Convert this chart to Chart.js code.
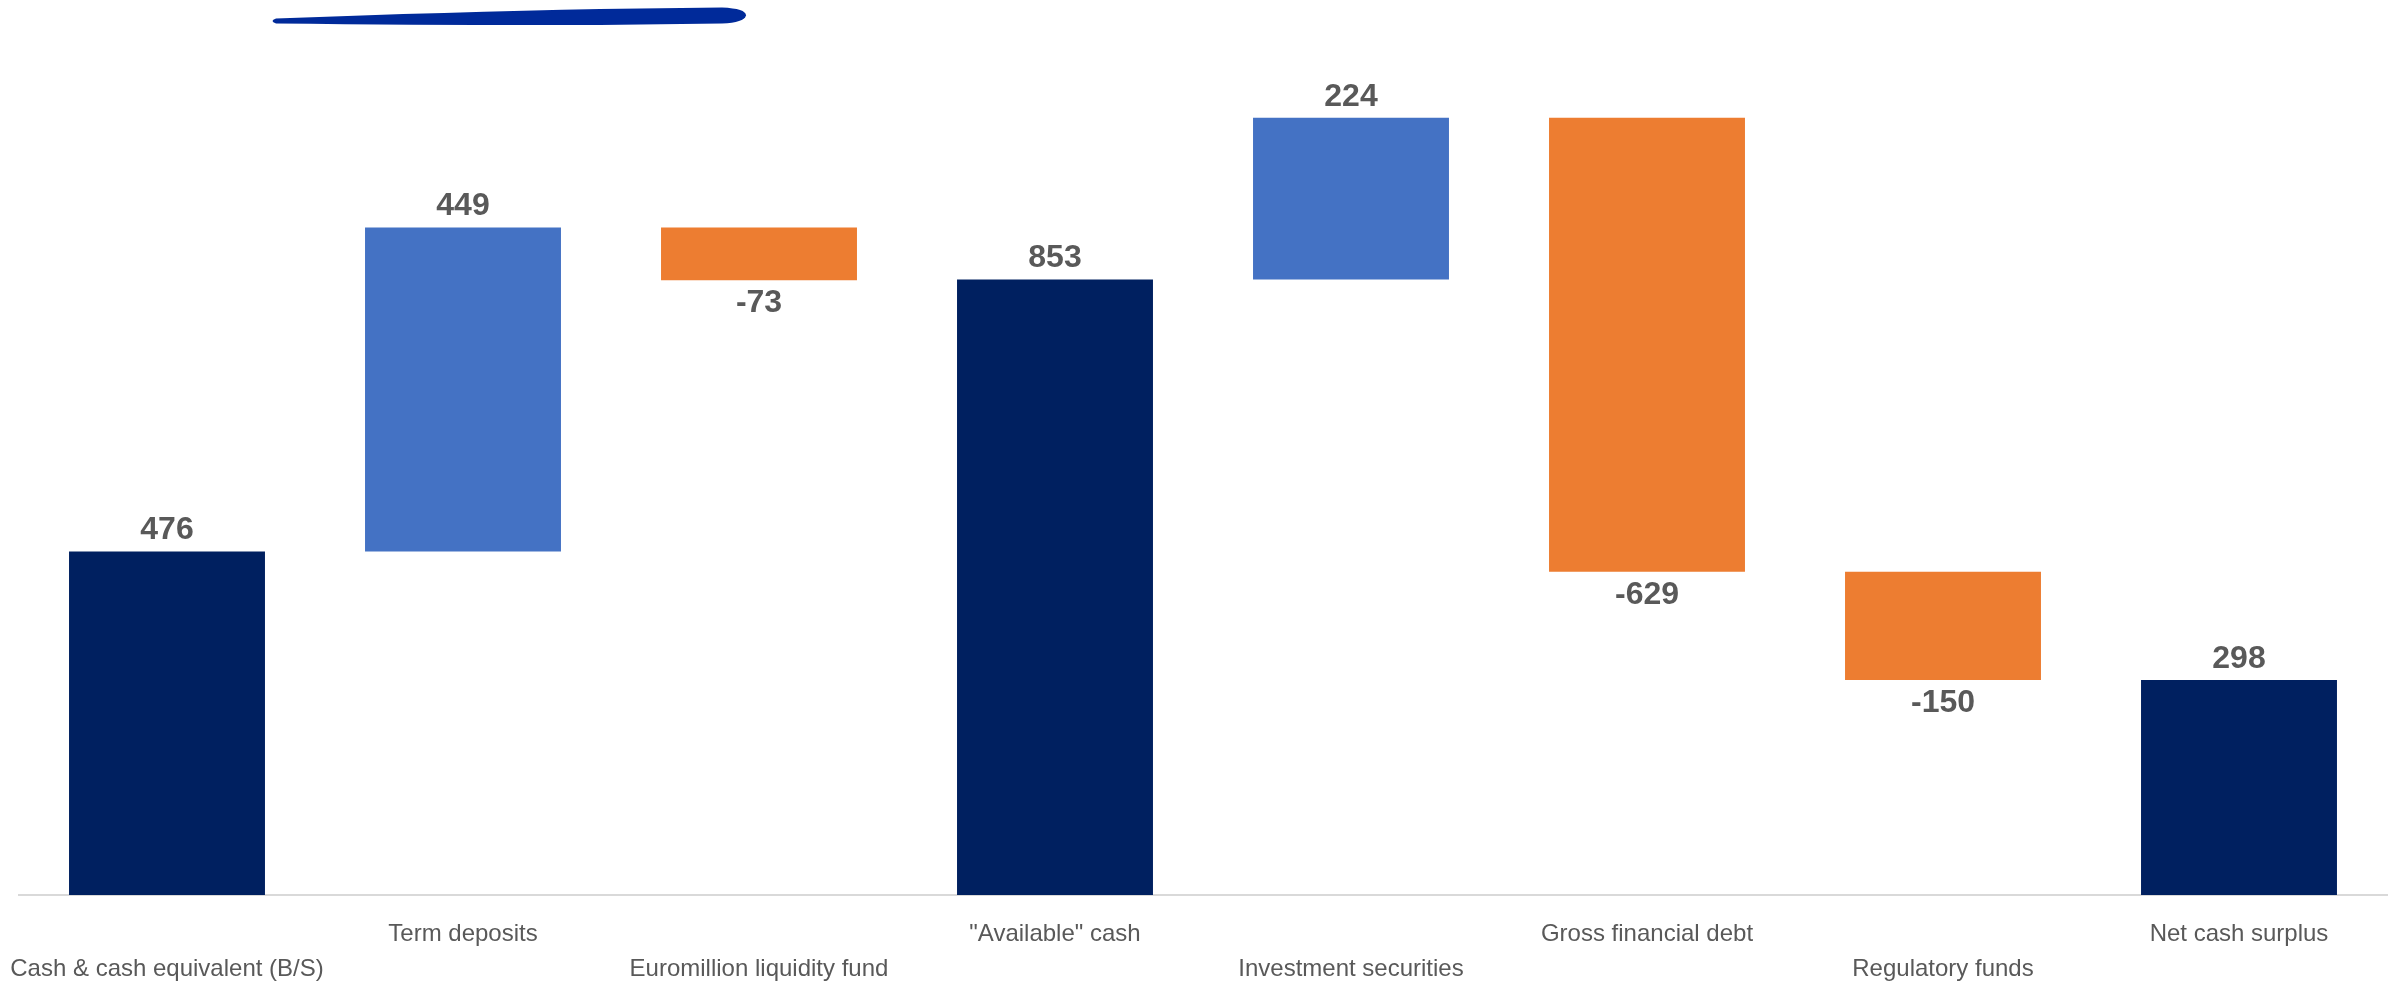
<!DOCTYPE html>
<html>
<head>
<meta charset="utf-8">
<script src="https://cdn.jsdelivr.net/npm/chart.js@4/dist/chart.umd.min.js"></script>
<style>
  html, body { margin: 0; padding: 0; background: #ffffff; }
  #wrap { position: relative; width: 2399px; height: 986px; }
  #swoosh { position: absolute; left: 0; top: 0; }
  canvas { position: absolute; left: 0; top: 0; }
</style>
</head>
<body>
<div id="wrap">
  <canvas id="c" width="2399" height="986"></canvas>
  <svg id="swoosh" width="800" height="40" viewBox="0 0 800 40">
    <path d="M 276 18.5 Q 450 12 600 9 L 722 7.5 Q 746 8.5 746 15.5 Q 744 22.5 722 23.5 L 600 25 Q 450 25.5 276 23.5 Q 269 21 276 18.5 Z" fill="#002A9A"/>
  </svg>
</div>
<script>
const categories = ['Cash & cash equivalent (B/S)', 'Term deposits', 'Euromillion liquidity fund', '"Available" cash', 'Investment securities', 'Gross financial debt', 'Regulatory funds', 'Net cash surplus'];
const values = [476, 449, -73, 853, 224, -629, -150, 298];
const kinds = ['total', 'delta', 'delta', 'total', 'delta', 'delta', 'delta', 'total'];
const yTicks = [0, 1200];

const COLORS = { total: '#002060', up: '#4472C4', down: '#ED7D31' };

// build floating ranges
let running = 0;
const ranges = [];
const colors = [];
values.forEach((v, i) => {
  if (kinds[i] === 'total') {
    ranges.push([0, v]);
    running = v;
    colors.push(COLORS.total);
  } else {
    ranges.push([running, running + v]);
    running += v;
    colors.push(v >= 0 ? COLORS.up : COLORS.down);
  }
});

// staggered labels: even index on second row
const xLabels = categories.map((c, i) => (i % 2 === 0 ? ['', c] : [c]));

const valueLabels = {
  id: 'valueLabels',
  afterDatasetsDraw(chart) {
    const ctx = chart.ctx;
    const meta = chart.getDatasetMeta(0);
    ctx.save();
    ctx.font = 'bold 32px "Liberation Sans", Arial, sans-serif';
    ctx.fillStyle = '#595959';
    ctx.textAlign = 'center';
    ctx.textBaseline = 'middle';
    meta.data.forEach((bar, i) => {
      const v = values[i];
      const top = Math.min(bar.y, bar.base);
      const bottom = Math.max(bar.y, bar.base);
      if (v >= 0) {
        ctx.fillText(String(v), bar.x, top - 21);
      } else {
        ctx.fillText(String(v), bar.x, bottom + 23);
      }
    });
    ctx.restore();
  }
};

new Chart(document.getElementById('c'), {
  type: 'bar',
  data: {
    labels: xLabels,
    datasets: [{
      data: ranges,
      backgroundColor: colors,
      borderWidth: 0,
      barPercentage: 0.662,
      categoryPercentage: 1.0
    }]
  },
  options: {
    responsive: false,
    animation: false,
    devicePixelRatio: 1,
    layout: { padding: { left: 19, right: 12, top: 29, bottom: 0 } },
    plugins: {
      legend: { display: false },
      tooltip: { enabled: false },
      title: { display: false }
    },
    scales: {
      x: {
        grid: { display: false, drawTicks: false },
        border: { display: true, color: '#D9D9D9', width: 2 },
        afterFit(scale) {
          scale.paddingLeft = 0;
          scale.paddingRight = 0;
          scale.height = 91;
        },
        ticks: {
          autoSkip: false,
          maxRotation: 0,
          minRotation: 0,
          padding: 22,
          color: '#595959',
          font: { family: '"Liberation Sans", Arial, sans-serif', size: 24, lineHeight: 1.46 }
        }
      },
      y: {
        display: false,
        min: yTicks[0],
        max: yTicks[1]
      }
    }
  },
  plugins: [valueLabels]
});
</script>
</body>
</html>
